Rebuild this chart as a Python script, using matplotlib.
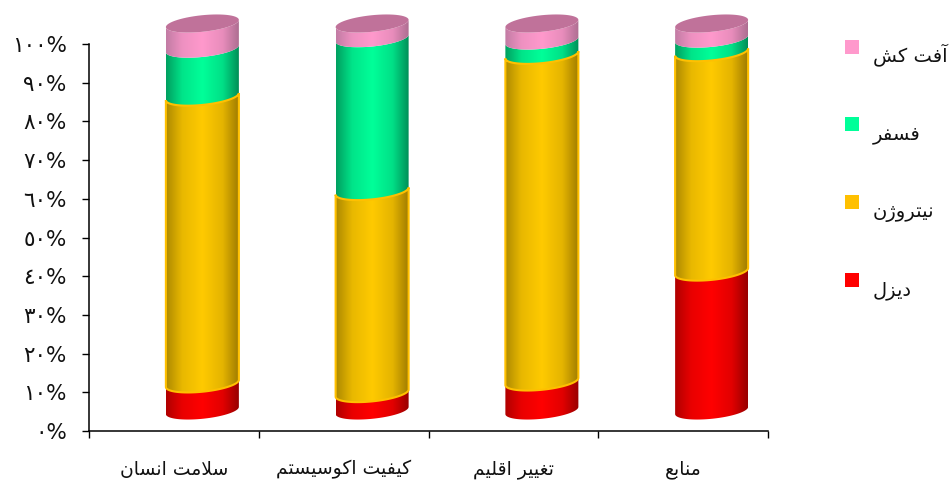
import numpy as np
import matplotlib
matplotlib.use("Agg")
import matplotlib.pyplot as plt
from matplotlib.colors import LinearSegmentedColormap, to_rgb
from matplotlib.legend_handler import HandlerPatch
from matplotlib.patches import Patch, Polygon, Rectangle

categories = ["سلامت انسان", "کیفیت اکوسیستم", "تغییر اقلیم", "منابع"]
series_names = ["دیزل", "نیتروژن", "فسفر", "آفت کش"]
diesel = [7.0, 4.5, 7.5, 35.9]
nitrogen = [74.1, 52.2, 84.4, 56.7]
phosphorus = [12.4, 39.5, 3.7, 3.5]
pesticide = [6.5, 3.8, 4.4, 3.9]
yticks = [0, 10, 20, 30, 40, 50, 60, 70, 80, 90, 100]

colors = ["#FF0000", "#FFC000", "#00FF99", "#FF99CC"]
centres = ["#FF0000", "#FFCA00", "#00FF99", "#FF99CC"]
edge_left = ["#B00000", "#AE8A00", "#009F60", "#C27CA4"]
edge_right = ["#980000", "#A07C00", "#008F58", "#AE6E92"]
top_cap = "#C0729A"

D = {"ب": (0xFE8F, 0xFE90, 0xFE91, 0xFE92), "ت": (0xFE95, 0xFE96, 0xFE97, 0xFE98),
     "س": (0xFEB1, 0xFEB2, 0xFEB3, 0xFEB4), "ش": (0xFEB5, 0xFEB6, 0xFEB7, 0xFEB8),
     "ع": (0xFEC9, 0xFECA, 0xFECB, 0xFECC), "غ": (0xFECD, 0xFECE, 0xFECF, 0xFED0),
     "ف": (0xFED1, 0xFED2, 0xFED3, 0xFED4), "ق": (0xFED5, 0xFED6, 0xFED7, 0xFED8),
     "ل": (0xFEDD, 0xFEDE, 0xFEDF, 0xFEE0), "م": (0xFEE1, 0xFEE2, 0xFEE3, 0xFEE4),
     "ن": (0xFEE5, 0xFEE6, 0xFEE7, 0xFEE8), "ک": (0xFB8E, 0xFB8F, 0xFB90, 0xFB91),
     "ی": (0xFBFC, 0xFBFD, 0xFBFE, 0xFBFF)}
R = {"ا": (0xFE8D, 0xFE8E), "آ": (0xFE81, 0xFE82), "د": (0xFEA9, 0xFEAA),
     "ر": (0xFEAD, 0xFEAE), "ز": (0xFEAF, 0xFEB0), "ژ": (0xFB8A, 0xFB8B),
     "و": (0xFEED, 0xFEEE)}


def shape(text):
    out = []
    i = 0
    prev_joins = False
    while i < len(text):
        c = text[i]
        nxt = text[i + 1] if i + 1 < len(text) else ""
        if c == "ل" and nxt == "ا":
            out.append(chr(0xFEFC if prev_joins else 0xFEFB))
            prev_joins = False
            i += 2
            continue
        if c in D:
            next_ok = nxt in D or nxt in R
            form = (2 if next_ok else 0) if not prev_joins else (3 if next_ok else 1)
            out.append(chr(D[c][form]))
            prev_joins = next_ok
        elif c in R:
            out.append(chr(R[c][1 if prev_joins else 0]))
            prev_joins = False
        else:
            out.append(c)
            prev_joins = False
        i += 1
    return "".join(reversed(out))


def arabic_digits(v):
    return "".join(chr(0x0660 + int(d)) for d in str(v)) + "%"


def mix(a, b, w):
    return tuple(w * x + (1 - w) * y for x, y in zip(to_rgb(a), to_rgb(b)))


W, H = 949, 483
fig = plt.figure(figsize=(W / 100, H / 100), dpi=100)
ax = fig.add_axes([89 / W, 1 - 431 / H, (768 - 89) / W, (431 - 44) / H])
ax.set_xlim(-0.5, 3.5)
ax.set_ylim(0, 100)

# cylinder geometry, expressed in data units
px_x = (768 - 89) / 4
px_y = (431 - 44) / 100
half_w = 36.5 / px_x
shift_x = 28.5 / px_x
shift_y = 20.5 / px_y
ry = 8.3 / px_y
tilt = 3.6 / px_y


def arc(cx, v, t0, t1):
    t = np.linspace(t0, t1, 60)
    return np.column_stack([cx + half_w * np.cos(t),
                            v + shift_y + tilt * np.cos(t) + ry * np.sin(t)])


stack = [diesel, nitrogen, phosphorus, pesticide]
grad = np.linspace(0, 1, 128)[None, :]
for i in range(len(categories)):
    cx = i + shift_x
    base = 0.0
    for s, vals in enumerate(stack):
        top = base + vals[i]
        low = arc(cx, base, np.pi, 2 * np.pi)
        high = arc(cx, top, 2 * np.pi, np.pi)
        pts = np.vstack([low, high])
        cmap = LinearSegmentedColormap.from_list(
            "c", [(0, edge_left[s]), (0.22, mix(centres[s], edge_left[s], 0.72)),
                  (0.5, centres[s]), (0.78, mix(centres[s], edge_right[s], 0.72)),
                  (1, edge_right[s])])
        ymin, ymax = pts[:, 1].min(), pts[:, 1].max()
        im = ax.imshow(grad, cmap=cmap, aspect="auto", interpolation="bilinear",
                       extent=(cx - half_w, cx + half_w, ymin, ymax), zorder=3 + s)
        clip = Polygon(pts, closed=True, transform=ax.transData)
        im.set_clip_box(fig.bbox)
        im.set_clip_path(clip)
        if s == 1:
            ax.add_patch(Polygon(pts, closed=True, fill=False, edgecolor="#FFC000",
                                 lw=1.5, zorder=7.5, clip_on=False))
        base = top
    cap = arc(cx, base, 0, 2 * np.pi)
    ax.add_patch(Polygon(cap, closed=True, facecolor=top_cap, edgecolor="none",
                         zorder=8, clip_on=False))

ax.set_xticks(np.arange(-0.5, 4, 1))
ax.set_xticklabels([])
ax.set_xticks(np.arange(len(categories)), minor=True)
ax.set_xticklabels([shape(c) for c in categories], minor=True, fontsize=13.5, color="#111111")
ax.tick_params(axis="x", which="major", length=5, width=1, direction="out")
ax.tick_params(axis="x", which="minor", length=0, pad=21)
ax.set_yticks(yticks)
ax.set_yticklabels([arabic_digits(v) for v in yticks], fontsize=15.5, color="#111111")
ax.tick_params(axis="y", length=5, width=1, direction="out", pad=11)
for side in ("top", "right"):
    ax.spines[side].set_visible(False)
for side in ("left", "bottom"):
    ax.spines[side].set_linewidth(1.1)
    ax.spines[side].set_zorder(2)


def swatch(legend, orig_handle, xdescent, ydescent, width, height, fontsize):
    side = 14 * 72 / 100
    lift = 8 * 72 / 100
    return Rectangle((-xdescent, -ydescent + (height - side) / 2 + lift), side, side)


handles = [Patch(facecolor=colors[s], edgecolor="none", label=shape(series_names[s]))
           for s in range(3, -1, -1)]
fig.legend(handles=handles, loc="upper left", bbox_to_anchor=(827.5 / W, 1 - 25.5 / H),
           frameon=False, fontsize=14, handlelength=0.72, handleheight=1.0,
           handletextpad=0.72, labelspacing=2.97, borderpad=0.4, labelcolor="#111111",
           handler_map={Patch: HandlerPatch(patch_func=swatch)})

fig.savefig("out.png", dpi=100)
